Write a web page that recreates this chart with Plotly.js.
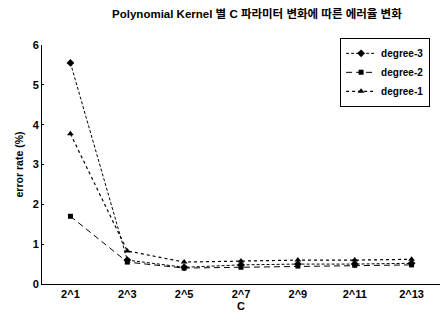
<!DOCTYPE html>
<html><head><meta charset="utf-8">
<script src="https://cdn.plot.ly/plotly-3.0.1.min.js"></script>
<style>body{margin:0;background:#fff}#c{width:443px;height:320px}</style>
</head><body><div id="c"></div>
<script>
const categories = ["2^1","2^3","2^5","2^7","2^9","2^11","2^13"];
const degree3 = [5.55, 0.60, 0.42, 0.48, 0.50, 0.50, 0.52];
const degree2 = [1.70, 0.55, 0.40, 0.42, 0.45, 0.47, 0.48];
const degree1 = [3.77, 0.83, 0.55, 0.58, 0.60, 0.60, 0.62];
const yTicks = [0,1,2,3,4,5,6];

const f = {family: "Liberation Sans, Arial, sans-serif", color: "#000"};
const traces = [
  {name: "degree-3", x: categories, y: degree3, mode: "lines+markers",
   line: {color: "#000", width: 1, dash: "3px,2px"}, marker: {symbol: "diamond", size: 6, color: "#000"}},
  {name: "degree-2", x: categories, y: degree2, mode: "lines+markers",
   line: {color: "#000", width: 1, dash: "6px,4px"}, marker: {symbol: "square", size: 5, color: "#000"}},
  {name: "degree-1", x: categories, y: degree1, mode: "lines+markers",
   line: {color: "#000", width: 1.2, dash: "dot"}, marker: {symbol: "triangle-up", size: 6, color: "#000"}}
];
const layout = {
  width: 443, height: 320,
  margin: {l: 42, r: 3, t: 45, b: 36},
  paper_bgcolor: "#fff", plot_bgcolor: "#fff",
  showlegend: true,
  title: {text: "Polynomial Kernel 별 C 파라미터 변화에 따른 에러율 변화",
    font: {family: "Liberation Sans, Noto Sans CJK KR, sans-serif", size: 11.5, color: "#000", weight: "bold"},
    xref: "container", x: 0.58, xanchor: "center", yref: "container", y: 0.956, yanchor: "middle"},
  xaxis: {type: "category", range: [-0.5, 6.5], showgrid: false, zeroline: false,
    showline: true, linecolor: "#000", linewidth: 1, ticks: "",
    tickfont: Object.assign({size: 11, weight: "bold"}, f),
    title: {text: "C", font: Object.assign({size: 11, weight: "bold"}, f), standoff: 2}},
  yaxis: {range: [0, 6], tickvals: yTicks, showgrid: false, zeroline: false,
    showline: true, linecolor: "#000", linewidth: 1, ticks: "inside", ticklen: 2, tickcolor: "#000",
    tickfont: Object.assign({size: 11, weight: "bold"}, f),
    title: {text: "error rate (%)", font: Object.assign({size: 10.5, weight: "bold"}, f), standoff: 6}},
  legend: {x: 0.749, y: 1.03, xanchor: "left", yanchor: "top", bordercolor: "#000", borderwidth: 1,
    bgcolor: "#fff", font: Object.assign({size: 10, weight: "bold"}, f), tracegroupgap: 0, itemwidth: 30}
};
Plotly.newPlot("c", traces, layout, {displayModeBar: false, staticPlot: true});
</script></body></html>
